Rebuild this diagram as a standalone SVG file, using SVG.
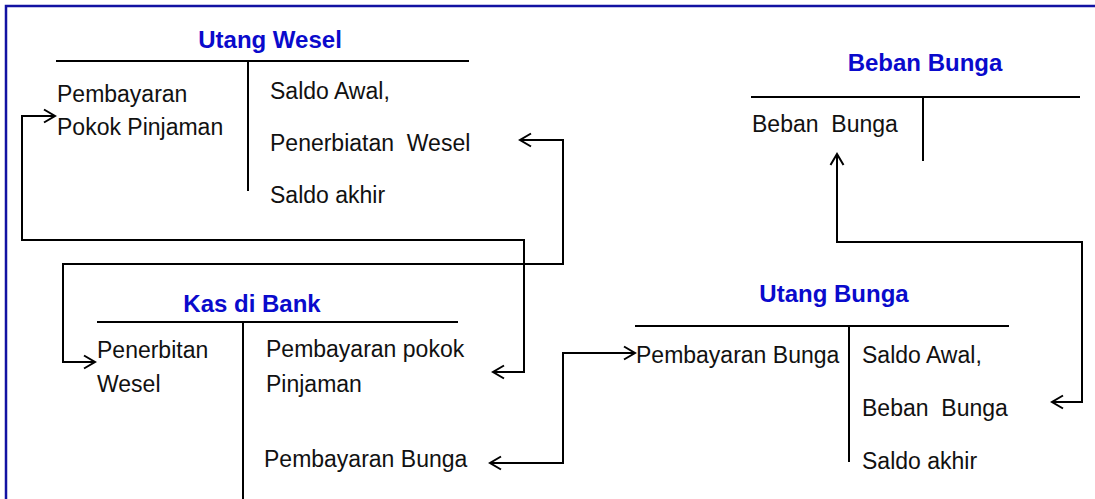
<svg xmlns="http://www.w3.org/2000/svg" width="1095" height="499" viewBox="0 0 1095 499">
  <style>
    .title { font-family: "Liberation Sans", Arial, sans-serif; font-weight: bold; font-size: 24px; fill: #0a0acc; text-anchor: middle; }
    .txt { font-family: "Liberation Sans", Arial, sans-serif; font-size: 23px; fill: #111; }
    .rule { stroke: #000; stroke-width: 2; fill: none; }
    .conn { stroke: #000; stroke-width: 2; fill: none; marker-start: url(#arr); marker-end: url(#arr); }
    .frame { stroke: #1212a2; stroke-width: 2.5; fill: none; }
  </style>
  <defs>
    <marker id="arr" markerUnits="userSpaceOnUse" viewBox="0 0 16 16" markerWidth="16" markerHeight="16" refX="14" refY="8" orient="auto-start-reverse">
      <path d="M3,1.5 L14,8 L3,14.5" fill="none" stroke="#000" stroke-width="2"/>
    </marker>
  </defs>

  <rect width="1095" height="499" fill="#fff"/>
  <!-- outer frame: top and left edges -->
  <path class="frame" d="M6,499 V6 H1095"/>

  <!-- T-account: Utang Wesel -->
  <g id="utang-wesel">
    <text class="title" x="270" y="48">Utang Wesel</text>
    <path class="rule" d="M56,61 H469 M248,61 V191"/>
    <text class="txt" x="57" y="102">Pembayaran</text>
    <text class="txt" x="57" y="135">Pokok Pinjaman</text>
    <text class="txt" x="270" y="99">Saldo Awal,</text>
    <text class="txt" x="270" y="151" xml:space="preserve">Penerbiatan  Wesel</text>
    <text class="txt" x="270" y="203">Saldo akhir</text>
  </g>

  <!-- T-account: Beban Bunga -->
  <g id="beban-bunga">
    <text class="title" x="925" y="71">Beban Bunga</text>
    <path class="rule" d="M751,97 H1080 M923,97 V161"/>
    <text class="txt" x="752" y="132" xml:space="preserve">Beban  Bunga</text>
  </g>

  <!-- T-account: Kas di Bank -->
  <g id="kas-di-bank">
    <text class="title" x="252" y="312">Kas di Bank</text>
    <path class="rule" d="M97,322 H458 M243,322 V499"/>
    <text class="txt" x="97" y="358">Penerbitan</text>
    <text class="txt" x="97" y="392">Wesel</text>
    <text class="txt" x="266" y="357">Pembayaran pokok</text>
    <text class="txt" x="266" y="392">Pinjaman</text>
    <text class="txt" x="264" y="467">Pembayaran Bunga</text>
  </g>

  <!-- T-account: Utang Bunga -->
  <g id="utang-bunga">
    <text class="title" x="834" y="302">Utang Bunga</text>
    <path class="rule" d="M635,326 H1009 M849,326 V462"/>
    <text class="txt" x="636" y="363">Pembayaran Bunga</text>
    <text class="txt" x="862" y="363">Saldo Awal,</text>
    <text class="txt" x="862" y="416" xml:space="preserve">Beban  Bunga</text>
    <text class="txt" x="862" y="469">Saldo akhir</text>
  </g>

  <!-- postings between accounts -->
  <g id="connectors">
    <path class="conn" d="M493,372 H524 V240 H22 V116 H55"/>
    <path class="conn" d="M520,140 H563 V264 H63 V362 H95"/>
    <path class="conn" d="M490,463 H563 V353 H635"/>
    <path class="conn" d="M1052,402 H1082 V242 H837 V154"/>
  </g>
</svg>
